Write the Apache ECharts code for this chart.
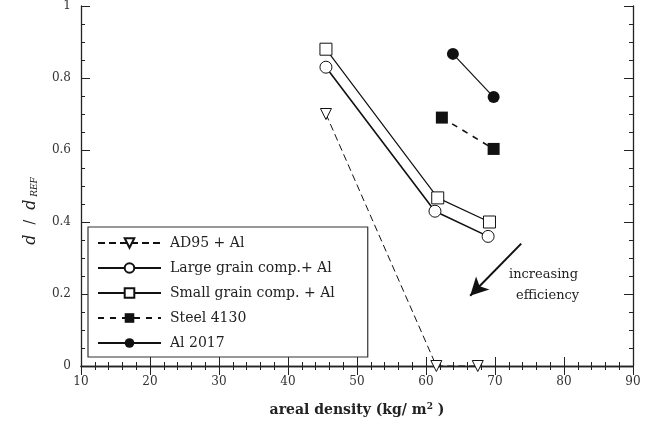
<!DOCTYPE html>
<html>
<head>
<meta charset="utf-8">
<script src="https://cdn.jsdelivr.net/npm/echarts@6/dist/echarts.min.js"></script>
<style>
  html, body { margin: 0; padding: 0; background: #fff; }
  #chart { width: 661px; height: 434px; }
</style>
</head>
<body>
<div id="chart"></div>
<script>
// values: [areal density, d/dREF]
const ad95 = [[45.5, 0.70], [61.5, 0], [67.5, 0]]
const largeGrain = [[45.5, 0.83], [61.3, 0.43], [69, 0.36]]
const smallGrain = [[45.5, 0.88], [61.7, 0.467], [69.2, 0.40]]
const steel4130 = [[62.3, 0.69], [69.8, 0.603]]
const al2017 = [[63.9, 0.867], [69.8, 0.747]]
// arrow "increasing efficiency" (start, tip)
const arrowFrom = [73.8, 0.34]
const arrowTo = [66.4, 0.195]

const serif = 'DejaVu Serif'
const chart = echarts.init(document.getElementById('chart'))

// 框线四周的刻度
const frameX = (pos, show) => ({
  type: 'value', min: 10, max: 90, interval: 10, position: pos,
  axisLine: { show: true, lineStyle: { color: '#222', width: 1.3 } },
  axisTick: { show: true, inside: true, length: 9, lineStyle: { color: '#222' } },
  minorTick: { show: true, splitNumber: 5, length: 4, lineStyle: { color: '#222' } },
  splitLine: { show: false },
  axisLabel: { show: show, color: '#333', fontFamily: serif, fontSize: 12, margin: 10 }
})
const frameY = (pos, show) => ({
  type: 'value', min: 0, max: 1, interval: 0.2, position: pos,
  axisLine: { show: true, lineStyle: { color: '#222', width: 1.3 } },
  axisTick: { show: true, inside: true, length: 9, lineStyle: { color: '#222' } },
  minorTick: { show: true, splitNumber: 4, length: 4, lineStyle: { color: '#222' } },
  splitLine: { show: false },
  axisLabel: {
    show: show, color: '#333', fontFamily: serif, fontSize: 12, margin: 10,
    formatter: (v) => (v === 0 || v === 1) ? String(v) : v.toFixed(1)
  }
})

const xMain = frameX('bottom', true)
xMain.name = 'areal density (kg/ m{sup|2} )'
xMain.nameLocation = 'middle'
xMain.nameGap = 36
xMain.nameTextStyle = {
  fontFamily: serif, fontSize: 14, fontWeight: 'bold', color: '#222',
  rich: { sup: { fontFamily: serif, fontSize: 9, fontWeight: 'bold', verticalAlign: 'top', padding: [0, 0, 8, 0] } }
}
const yMain = frameY('left', true)
yMain.name = '{i|d}   {n|/}   {i|d}{s| REF}'
yMain.nameLocation = 'middle'
yMain.nameGap = 42
yMain.nameTextStyle = {
  color: '#222',
  padding: [0, 50, 0, 0],
  rich: {
    i: { fontFamily: serif, fontStyle: 'italic', fontSize: 16, color: '#222' },
    n: { fontFamily: serif, fontSize: 14, color: '#222' },
    s: { fontFamily: serif, fontStyle: 'italic', fontSize: 9, color: '#222', padding: [8, 0, 0, 0] }
  }
}

const black = '#111'
const option = {
  backgroundColor: '#fff',
  animation: false,
  grid: { left: 81, right: 28, top: 6, bottom: 68 },
  xAxis: [xMain, frameX('top', false)],
  yAxis: [yMain, frameY('right', false)],
  legend: {
    orient: 'vertical',
    left: 88, top: 227,
    padding: [9, 33, 7, 9],
    itemWidth: 63, itemHeight: 12, itemGap: 11,
    backgroundColor: '#fff',
    borderColor: '#333', borderWidth: 1.2,
    textStyle: { fontFamily: serif, fontSize: 14, color: '#222', padding: [0, 0, 0, 4] },
    data: ['AD95 + Al', 'Large grain comp.+ Al', 'Small grain comp. + Al', 'Steel 4130', 'Al 2017']
  },
  graphic: [
    { type: 'text', left: 509, top: 268, style: { text: 'increasing', font: '13px "DejaVu Serif"', fill: '#222' } },
    { type: 'text', left: 516, top: 289, style: { text: 'efficiency', font: '13px "DejaVu Serif"', fill: '#222' } }
  ],
  series: [
    {
      name: 'AD95 + Al', type: 'line', data: ad95, z: 1,
      symbol: 'triangle', symbolRotate: 180, symbolSize: 11,
      itemStyle: { color: '#fff', borderColor: black, borderWidth: 1 },
      lineStyle: { color: black, width: 1, type: [7, 4] }
    },
    {
      name: 'Large grain comp.+ Al', type: 'line', data: largeGrain,
      symbol: 'circle', symbolSize: 12,
      itemStyle: { color: '#fff', borderColor: black, borderWidth: 1 },
      lineStyle: { color: black, width: 1.6 }
    },
    {
      name: 'Small grain comp. + Al', type: 'line', data: smallGrain,
      symbol: 'rect', symbolSize: 12,
      itemStyle: { color: '#fff', borderColor: black, borderWidth: 1 },
      lineStyle: { color: black, width: 1.2 }
    },
    {
      name: 'Steel 4130', type: 'line', data: steel4130,
      symbol: 'rect', symbolSize: 12,
      itemStyle: { color: black },
      lineStyle: { color: black, width: 1.6, type: [6, 6] }
    },
    {
      name: 'Al 2017', type: 'line', data: al2017,
      symbol: 'circle', symbolSize: 12,
      itemStyle: { color: black },
      lineStyle: { color: black, width: 1.2 },
      markLine: {
        silent: true,
        symbol: ['none', 'arrow'],
        symbolSize: [14, 18],
        label: { show: false },
        lineStyle: { color: black, width: 2, type: 'solid' },
        data: [[{ coord: arrowFrom }, { coord: arrowTo }]]
      }
    }
  ]
}
chart.setOption(option)
</script>
</body>
</html>
